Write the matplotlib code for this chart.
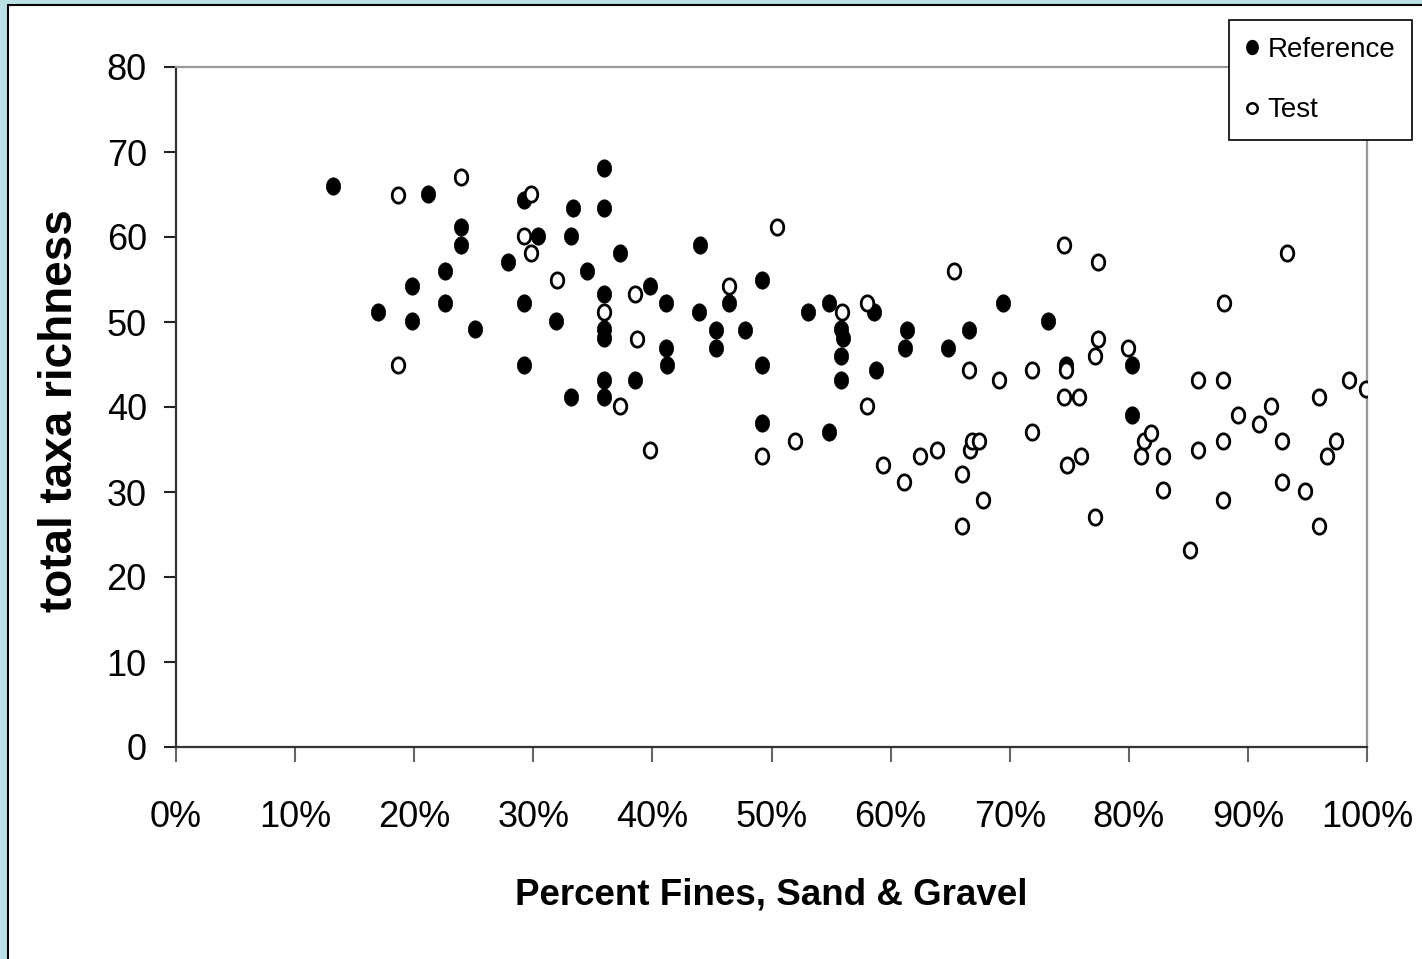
import matplotlib
matplotlib.use('Agg')
import matplotlib.pyplot as plt
import numpy as np
from matplotlib import font_manager
from matplotlib.path import Path
from matplotlib.patches import Rectangle
from matplotlib.lines import Line2D
from matplotlib.ticker import PercentFormatter

# -------------------------------
# data (percent fines / sand / gravel vs total taxa richness)
# -------------------------------
ref_x = [13.2, 17.0, 21.2, 19.8, 19.8, 23.9, 23.9, 22.6, 22.6, 25.1,
         27.9, 29.2, 30.4, 29.2, 29.2, 31.9, 33.2, 33.3, 33.2, 34.5,
         35.9, 35.9, 35.9, 35.9, 35.9, 35.9, 35.9, 37.3, 38.5, 39.8,
         41.1, 41.1, 41.2, 44.0, 43.9, 45.3, 45.3, 46.4, 47.8, 49.2,
         49.2, 49.2, 53.1, 54.8, 54.8, 55.8, 56.0, 55.8, 55.8, 58.6,
         58.8, 61.4, 61.2, 64.8, 66.6, 69.4, 73.2, 74.7, 80.3, 80.3]
ref_y = [66.0, 51.2, 65.1, 54.2, 50.1, 61.2, 59.1, 56.0, 52.2, 49.2,
         57.1, 64.4, 60.1, 52.2, 44.9, 50.1, 60.1, 63.4, 41.2, 56.0,
         68.1, 63.4, 53.3, 49.2, 48.1, 43.2, 41.2, 58.1, 43.2, 54.2,
         52.2, 47.0, 44.9, 59.1, 51.2, 49.1, 47.0, 52.2, 49.1, 55.0,
         44.9, 38.1, 51.2, 52.2, 37.1, 49.2, 48.1, 46.0, 43.2, 51.2,
         44.3, 49.1, 47.0, 47.0, 49.1, 52.2, 50.1, 44.9, 44.9, 39.1]

test_x = [18.6, 18.6, 23.9, 29.8, 29.2, 29.8, 32.0, 35.9, 38.5, 38.7,
          37.3, 39.8, 50.5, 46.4, 55.9, 58.0, 58.0, 49.2, 52.0, 59.4,
          61.1, 62.5, 63.9, 65.3, 66.6, 69.1, 66.0, 66.7, 66.8, 67.4,
          67.8, 66.0, 71.9, 71.9, 74.6, 74.7, 74.6, 75.8, 74.8, 76.0,
          77.4, 77.4, 77.2, 77.2, 79.9, 81.0, 81.3, 81.9, 82.9, 82.9,
          85.1, 85.8, 85.8, 88.0, 87.9, 87.9, 87.9, 89.2, 90.9, 91.9,
          92.9, 92.9, 93.3, 94.8, 96.0, 96.0, 96.6, 97.4, 98.5, 99.9]
test_y = [64.9, 44.9, 67.1, 65.1, 60.1, 58.1, 54.9, 51.2, 53.3, 48.0,
          40.1, 34.9, 61.2, 54.2, 51.2, 52.2, 40.1, 34.2, 36.0, 33.2,
          31.2, 34.2, 34.9, 56.0, 44.3, 43.2, 32.1, 34.9, 36.0, 36.0,
          29.1, 26.0, 44.3, 37.1, 59.1, 44.3, 41.2, 41.2, 33.2, 34.2,
          57.1, 48.0, 46.0, 27.1, 47.0, 34.2, 36.0, 37.0, 34.2, 30.2,
          23.2, 43.2, 34.9, 52.2, 43.2, 36.0, 29.1, 39.1, 38.0, 40.1,
          36.0, 31.2, 58.1, 30.1, 41.2, 26.0, 34.2, 36.0, 43.2, 42.1]

x_ticks = [0, 10, 20, 30, 40, 50, 60, 70, 80, 90, 100]
y_ticks = [0, 10, 20, 30, 40, 50, 60, 70, 80]

# -------------------------------
# fonts: the original uses Arial Narrow
# -------------------------------
installed = {f.name for f in font_manager.fontManager.ttflist}
if 'Liberation Sans Narrow' in installed:
    FAMILY = ['Liberation Sans Narrow', 'DejaVu Sans']
    TICK_SIZE = 31
    XLAB_SIZE = 32
    LEG_SIZE = 25
else:
    FAMILY = ['Liberation Sans', 'DejaVu Sans']
    TICK_SIZE = 26
    XLAB_SIZE = 26.5
    LEG_SIZE = 20
plt.rcParams['font.family'] = FAMILY

# slightly tall ellipse marker, like the original
t = np.linspace(0, 2 * np.pi, 60)
ellipse = Path(np.column_stack([0.41 * np.cos(t), 0.5 * np.sin(t)]), closed=True)

# -------------------------------
# figure
# -------------------------------
fig = plt.figure(figsize=(14.22, 9.59), dpi=100)
fig.patch.set_facecolor('#BCE1E4')
fig.patches.append(Rectangle((8 / 1422, -0.01), 1.0, 1 - 5 / 959 + 0.01,
                             transform=fig.transFigure, facecolor='white',
                             edgecolor='black', linewidth=1.5, zorder=-1))

ax = fig.add_axes([176 / 1422, 1 - 747 / 959, 1191 / 1422, 680 / 959])
ax.set_facecolor('white')

ax.plot(test_x, test_y, linestyle='none', marker=ellipse, markersize=11,
        markerfacecolor='white', markeredgecolor='black', markeredgewidth=2.0,
        zorder=3)
ax.plot(ref_x, ref_y, linestyle='none', marker=ellipse, markersize=12.5,
        markerfacecolor='black', markeredgecolor='black', markeredgewidth=0.5,
        zorder=2)

ax.set_xlim(0, 100)
ax.set_ylim(0, 80)
ax.set_xticks(x_ticks)
ax.set_yticks(y_ticks)
ax.xaxis.set_major_formatter(PercentFormatter(decimals=0))

for side in ['left', 'bottom']:
    ax.spines[side].set_color('#333333')
    ax.spines[side].set_linewidth(1.6)
for side in ['top', 'right']:
    ax.spines[side].set_color('#999999')
    ax.spines[side].set_linewidth(1.6)

ax.tick_params(axis='y', direction='out', length=9, width=1.5, color='#222222',
               labelsize=TICK_SIZE, pad=12)
ax.tick_params(axis='x', direction='out', length=11, width=1.5, color='#666666',
               labelsize=TICK_SIZE, pad=27)

ax.set_xlabel('Percent Fines, Sand & Gravel', fontsize=XLAB_SIZE,
              fontweight='bold')
ax.xaxis.label.set_va('center')
ax.xaxis.set_label_coords(0.5, (747 - 895) / 680)

ax.set_ylabel('total taxa richness', fontsize=33, fontweight='bold',
              family=['Liberation Sans', 'DejaVu Sans'])
ax.yaxis.label.set_va('center')
ax.yaxis.set_label_coords((60 - 176) / 1191, 0.495)

# legend with smaller markers, box pinned at the top right
handles = [
    Line2D([], [], linestyle='none', marker=ellipse, markersize=10,
           markerfacecolor='black', markeredgecolor='black'),
    Line2D([], [], linestyle='none', marker='o', markersize=7.5,
           markerfacecolor='white', markeredgecolor='black', markeredgewidth=1.8),
]
leg = fig.legend(handles, ['Reference', 'Test'], loc='upper right',
                 bbox_to_anchor=(1412 / 1422, 1 - 20 / 959),
                 fontsize=LEG_SIZE, frameon=True, fancybox=False,
                 edgecolor='black', handlelength=0.5, handletextpad=0.3,
                 borderpad=0.6, labelspacing=1.25, borderaxespad=0)
leg.get_frame().set_linewidth(1.2)
leg.get_frame().set_facecolor('white')
leg.get_frame().set_alpha(1)

plt.savefig('out.png', dpi=100, facecolor=fig.get_facecolor())
